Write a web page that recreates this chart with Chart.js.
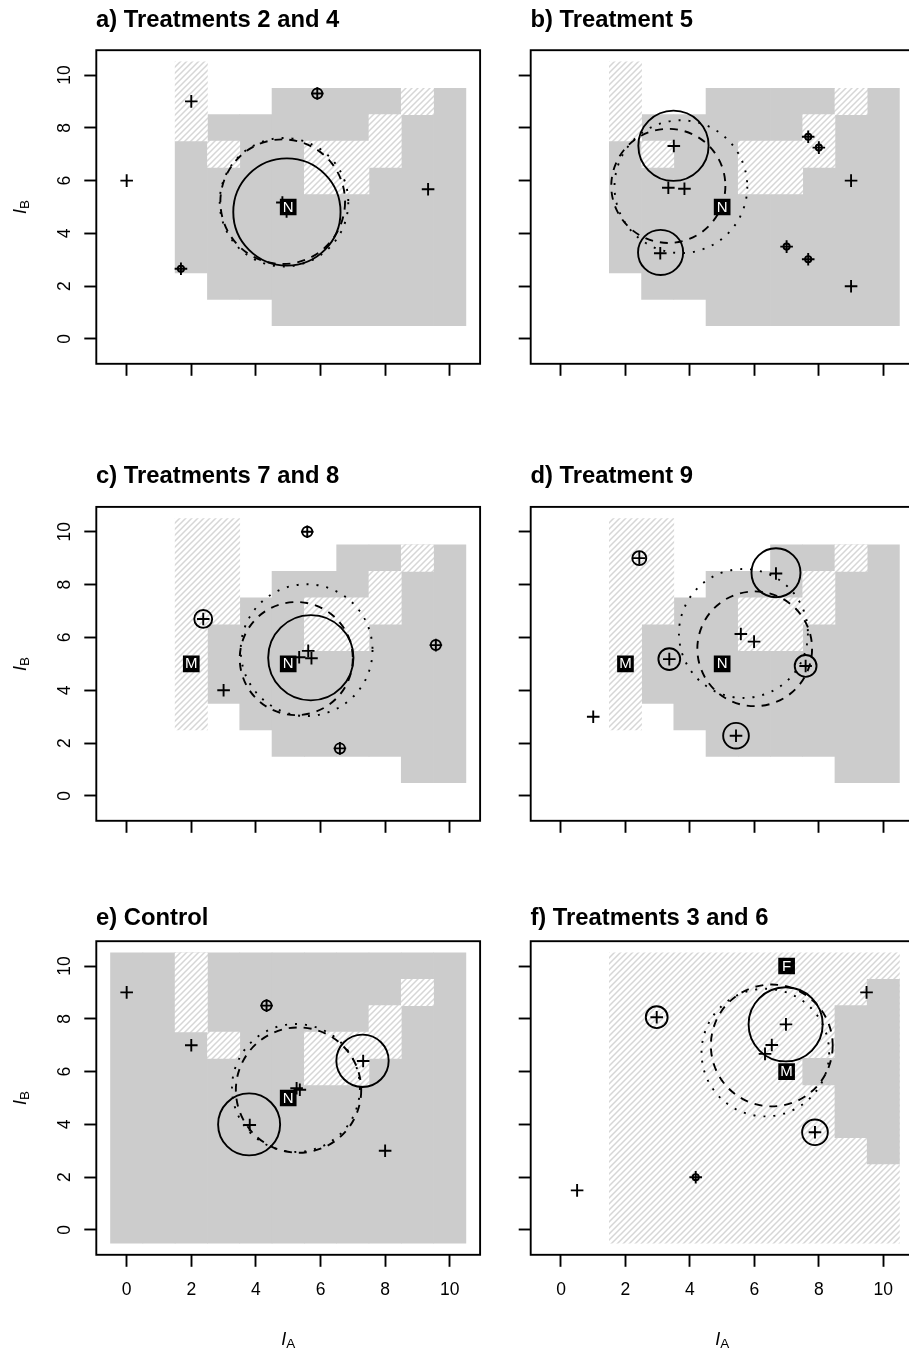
<!DOCTYPE html>
<html>
<head>
<meta charset="utf-8">
<title>Investment choices by treatment</title>
<script src="https://cdn.jsdelivr.net/npm/chart.js@4.4.1/dist/chart.umd.min.js"></script>
<style>
  html, body { margin: 0; padding: 0; background: #fff; overflow: hidden; }
  #page { position: relative; width: 909px; height: 1351px; overflow: hidden; background: #fff;
          font-family: "Liberation Sans", Arial, Helvetica, sans-serif; color: #000; }
  #page canvas { position: absolute; }
  .ttl { position: absolute; font-weight: bold; font-size: 23.8px; line-height: 1; white-space: nowrap; }
  .axt { position: absolute; font-size: 18px; line-height: 1; white-space: nowrap; }
  .axt i { font-style: italic; }
  .axt sub { font-size: 13.5px; vertical-align: -3px; line-height: 0; }
</style>
</head>
<body>
<div id="page"></div>
<script>
// Tick positions shared by both axes
const axisTicks = [0, 2, 4, 6, 8, 10];

// Cells of the grid as [column, first row, last row]
const grayAB   = [[2, 3, 7], [3, 2, 8], [4, 2, 8], [5, 1, 9], [6, 1, 9], [7, 1, 9], [8, 1, 9], [9, 1, 9], [10, 1, 9]];
const hatchABE = [[2, 8, 10], [3, 7, 7], [6, 6, 7], [7, 6, 7], [8, 7, 8], [9, 9, 9]];
const grayCD   = [[3, 4, 6], [4, 3, 7], [5, 2, 8], [6, 2, 8], [7, 2, 9], [8, 2, 9], [9, 1, 9], [10, 1, 9]];
const hatchCD  = [[2, 3, 10], [3, 7, 10], [6, 6, 7], [7, 6, 7], [8, 7, 8], [9, 9, 9]];
const grayE    = [[0, 0, 10], [1, 0, 10], [2, 0, 10], [3, 0, 10], [4, 0, 10], [5, 0, 10],
                  [6, 0, 10], [7, 0, 10], [8, 0, 10], [9, 0, 10], [10, 0, 10]];
const grayF    = [[8, 6, 6], [9, 4, 8], [10, 3, 9]];
const hatchF   = [[2, 0, 10], [3, 0, 10], [4, 0, 10], [5, 0, 10], [6, 0, 10],
                  [7, 0, 10], [8, 0, 10], [9, 0, 10], [10, 0, 10]];

// Observed choices (I_A, I_B) and how many coincide at each point
const aX = [0, 2, 5.9, 1.68, 9.33, 4.82, 4.95];
const aY = [6, 9, 9.3, 2.66, 5.67, 5.17, 4.83];
const aN = [1, 1, 3, 2, 1, 1, 1];
const bX = [3.5, 3.08, 3.33, 3.83, 7.67, 8.0, 9.0, 7.0, 7.67, 9.0];
const bY = [7.31, 3.25, 5.73, 5.69, 7.66, 7.25, 6.0, 3.5, 3.02, 2.0];
const bN = [1, 1, 1, 1, 2, 2, 1, 2, 2, 1];
const cX = [5.59, 2.37, 3.0, 5.34, 5.62, 5.72, 9.57, 6.6];
const cY = [10.0, 6.7, 4.0, 5.25, 5.49, 5.21, 5.71, 1.8];
const cN = [3, 5, 1, 1, 1, 1, 3, 3];
const dX = [2.43, 1.0, 3.36, 5.58, 5.99, 7.59, 5.43, 6.67];
const dY = [9.0, 3.0, 5.18, 6.13, 5.84, 4.92, 2.28, 8.42];
const dN = [4, 1, 6, 1, 1, 6, 7, 1];
const eX = [0, 2, 4.33, 5.26, 5.36, 3.81, 7.32, 8];
const eY = [9, 7, 8.5, 5.37, 5.31, 3.98, 6.4, 3];
const eN = [1, 1, 3, 1, 1, 1, 1, 1];
const fX = [0.5, 2.97, 4.18, 9.48, 6.98, 6.54, 6.33, 7.88];
const fY = [1.5, 8.06, 2.0, 9.0, 7.79, 7.01, 6.67, 3.7];
const fN = [1, 6, 2, 1, 1, 1, 1, 7];

// Cluster circles [centre x, centre y, radius in I_A units]
const aSolid = [[4.96, 4.81, 1.66]];
const aDashed = [4.83, 5.2, 1.93];
const aDotted = [4.87, 5.18, 1.99];
const bSolid = [[3.49, 7.32, 1.09], [3.09, 3.28, 0.70]];
const bDashed = [3.33, 5.8, 1.77];
const bDotted = [3.72, 5.77, 2.06];
const cSolid = [[5.7, 5.23, 1.32]];
const cDashed = [5.25, 5.2, 1.75];
const cDotted = [5.57, 5.52, 2.04];
const dSolid = [[6.67, 8.45, 0.76]];
const dDashed = [6.01, 5.57, 1.78];
const dDotted = [5.66, 6.15, 2.0];
const eSolid = [[3.79, 4.0, 0.96], [7.3, 6.41, 0.81]];
const eDashed = [5.32, 5.3, 1.94];
const eDotted = [5.24, 5.38, 1.98];
const fSolid = [[6.97, 7.79, 1.15]];
const fDashed = [6.54, 6.99, 1.89];
const fDotted = [6.34, 6.72, 1.98];

// Labelled reference points [letter, I_A, I_B]
const aMarks = [['N', 5, 5]];
const bMarks = [['N', 5, 5]];
const cMarks = [['M', 2, 5], ['N', 5, 5]];
const dMarks = [['M', 2, 5], ['N', 5, 5]];
const eMarks = [['N', 5, 5]];
const fMarks = [['F', 7, 10], ['M', 7, 6]];

const panelTitles = ['a) Treatments 2 and 4', 'b) Treatment 5', 'c) Treatments 7 and 8',
                     'd) Treatment 9', 'e) Control', 'f) Treatments 3 and 6'];

// ---------------------------------------------------------------------------
const FONT = '"Liberation Sans", Arial, Helvetica, sans-serif';
Chart.defaults.font.family = FONT;
Chart.defaults.color = '#000';
Chart.defaults.animation = false;

const LW = 1.9;
const AX_MIN = -0.94, AX_MAX = 10.94;
const ringRadius = n => 1.95 * n - 0.8;

// page layout of the 3 x 2 grid of plots
const COLS = [
  { canvasLeft: 0,   width: 490, plotLeft: 96.3,  plotRight: 480.1 },
  { canvasLeft: 440, width: 480, plotLeft: 530.7, plotRight: 913.6 }
];
const ROWS = [
  { plotTop: 50.2,  plotBottom: 363.8,  titleBase: 26.7 },
  { plotTop: 506.9, plotBottom: 820.8,  titleBase: 483.3 },
  { plotTop: 941.2, plotBottom: 1254.8, titleBase: 925.3 }
];

const panels = [
  { col: 0, row: 0, gray: grayAB, hatch: hatchABE, grayOnTop: false, x: aX, y: aY, n: aN, solid: aSolid, dashed: aDashed, dotted: aDotted, marks: aMarks },
  { col: 1, row: 0, gray: grayAB, hatch: hatchABE, grayOnTop: false, x: bX, y: bY, n: bN, solid: bSolid, dashed: bDashed, dotted: bDotted, marks: bMarks },
  { col: 0, row: 1, gray: grayCD, hatch: hatchCD,  grayOnTop: false, x: cX, y: cY, n: cN, solid: cSolid, dashed: cDashed, dotted: cDotted, marks: cMarks },
  { col: 1, row: 1, gray: grayCD, hatch: hatchCD,  grayOnTop: false, x: dX, y: dY, n: dN, solid: dSolid, dashed: dDashed, dotted: dDotted, marks: dMarks },
  { col: 0, row: 2, gray: grayE,  hatch: hatchABE, grayOnTop: false, x: eX, y: eY, n: eN, solid: eSolid, dashed: eDashed, dotted: eDotted, marks: eMarks },
  { col: 1, row: 2, gray: grayF,  hatch: hatchF,   grayOnTop: true,  x: fX, y: fY, n: fN, solid: fSolid, dashed: fDashed, dotted: fDotted, marks: fMarks }
];

const page = document.getElementById('page');

function makeHatch(ctx) {
  const t = document.createElement('canvas');
  t.width = 6; t.height = 6;
  const g = t.getContext('2d');
  g.fillStyle = '#ffffff';
  g.fillRect(0, 0, 6, 6);
  g.strokeStyle = '#d6d6d6';
  g.lineWidth = 1.5;
  g.beginPath();
  g.moveTo(-1, 7); g.lineTo(7, -1);
  g.moveTo(-1, 1); g.lineTo(1, -1);
  g.moveTo(5, 7);  g.lineTo(7, 5);
  g.stroke();
  return ctx.createPattern(t, 'repeat');
}

// line style for the dashed / dotted cluster circles
const circleDashPlugin = {
  id: 'circleDash',
  beforeDatasetDraw(chart, args) {
    const ds = chart.data.datasets[args.index];
    chart.ctx.setLineDash(ds.circleDash || []);
  },
  afterDatasetDraw(chart) {
    chart.ctx.setLineDash([]);
  }
};

// white letters on the black reference boxes, plus the frame round the plot
const framePlugin = {
  id: 'frameAndLetters',
  afterDatasetsDraw(chart) {
    const ctx = chart.ctx;
    ctx.save();
    chart.data.datasets.forEach((ds, i) => {
      if (!ds.markLabels) return;
      const meta = chart.getDatasetMeta(i);
      ctx.fillStyle = '#ffffff';
      ctx.font = '15px ' + FONT;
      ctx.textAlign = 'center';
      ctx.textBaseline = 'middle';
      meta.data.forEach((el, j) => ctx.fillText(ds.markLabels[j], el.x, el.y + 0.5));
    });
    const a = chart.chartArea;
    ctx.strokeStyle = '#000';
    ctx.lineWidth = LW;
    ctx.strokeRect(a.left, a.top, a.right - a.left, a.bottom - a.top);
    ctx.restore();
  }
};

function addText(cls, html, style) {
  const d = document.createElement('div');
  d.className = cls;
  d.innerHTML = html;
  Object.assign(d.style, style);
  page.appendChild(d);
  return d;
}

function buildPanel(p, idx) {
  const C = COLS[p.col], R = ROWS[p.row];
  const bottomRow = p.row === ROWS.length - 1;
  const top = Math.floor(R.plotTop) - 30;
  const xAxisH = bottomRow ? 50 : 20;
  const yAxisW = 50;
  const height = Math.ceil(R.plotBottom - top) + xAxisH + 30;

  const cv = document.createElement('canvas');
  cv.width = C.width;
  cv.height = height;
  Object.assign(cv.style, { left: C.canvasLeft + 'px', top: top + 'px', width: C.width + 'px', height: height + 'px' });
  page.appendChild(cv);
  const ctx = cv.getContext('2d');

  const cellData = cells => cells.map(([c, lo, hi]) => ({ x: c, y: [lo - 0.5, hi + 0.5] }));
  const pxPerUnit = chart => {
    const s = chart.scales.x;
    return s.getPixelForValue(1) - s.getPixelForValue(0);
  };
  const circleSet = (list, dash) => ({
    type: 'scatter',
    data: list.map(([x, y, r]) => ({ x, y, r })),
    order: 5,
    pointStyle: 'circle',
    pointRadius: c => c.raw.r * pxPerUnit(c.chart),
    pointBackgroundColor: 'rgba(0,0,0,0)',
    pointBorderColor: '#000',
    pointBorderWidth: LW,
    circleDash: dash
  });
  const rings = [];
  p.x.forEach((x, i) => { if (p.n[i] > 1) rings.push({ x, y: p.y[i], n: p.n[i] }); });

  const cellOpts = { type: 'bar', borderWidth: 0, grouped: false, barPercentage: 1, categoryPercentage: 1 };
  const datasets = [
    Object.assign({ data: cellData(p.gray), backgroundColor: '#cccccc', order: p.grayOnTop ? 7 : 8 }, cellOpts),
    Object.assign({ data: cellData(p.hatch), backgroundColor: makeHatch(ctx), order: p.grayOnTop ? 8 : 7 }, cellOpts),
    circleSet(p.solid, []),
    circleSet([p.dashed], [8, 7]),
    circleSet([p.dotted], [2, 8]),
    {
      type: 'scatter', data: rings, order: 3,
      pointStyle: 'circle', pointRadius: c => ringRadius(c.raw.n),
      pointBackgroundColor: 'rgba(0,0,0,0)', pointBorderColor: '#000', pointBorderWidth: LW
    },
    {
      type: 'scatter', data: p.x.map((x, i) => ({ x, y: p.y[i] })), order: 2,
      pointStyle: 'cross', pointRadius: 6.3, pointBorderColor: '#000', pointBorderWidth: LW
    },
    {
      type: 'scatter', data: p.marks.map(m => ({ x: m[1], y: m[2] })), markLabels: p.marks.map(m => m[0]), order: 1,
      pointStyle: 'rect', pointRadius: 11.8, pointBackgroundColor: '#000', pointBorderColor: '#000', pointBorderWidth: 0
    }
  ];

  const gridOpts = {
    display: true, drawOnChartArea: false, drawTicks: true, tickLength: 12,
    tickWidth: LW, tickColor: '#000', color: '#000', offset: false
  };
  const setTicks = s => { s.ticks = axisTicks.map(v => ({ value: v })); };

  new Chart(ctx, {
    type: 'scatter',
    data: { datasets },
    options: {
      responsive: false,
      maintainAspectRatio: false,
      animation: false,
      events: [],
      layout: {
        autoPadding: false,
        padding: {
          left: C.plotLeft - C.canvasLeft - yAxisW,
          right: C.width - (C.plotRight - C.canvasLeft),
          top: R.plotTop - top,
          bottom: height - (R.plotBottom - top) - xAxisH
        }
      },
      plugins: { legend: { display: false }, tooltip: { enabled: false }, title: { display: false } },
      scales: {
        x: {
          type: 'linear', min: AX_MIN, max: AX_MAX, offset: false, beginAtZero: false,
          afterBuildTicks: setTicks,
          afterFit: s => { s.height = xAxisH; },
          ticks: {
            display: bottomRow, color: '#000', font: { family: FONT, size: 17.5 },
            padding: 12.7, minRotation: 0, maxRotation: 0, autoSkip: false
          },
          grid: gridOpts,
          border: { display: false }
        },
        y: {
          type: 'linear', min: AX_MIN, max: AX_MAX, offset: false, beginAtZero: false,
          afterBuildTicks: setTicks,
          afterFit: s => { s.width = yAxisW; },
          ticks: {
            display: p.col === 0, color: '#000', font: { family: FONT, size: 17.5 },
            padding: 9.6, minRotation: 90, maxRotation: 90, crossAlign: 'center', autoSkip: false
          },
          grid: gridOpts,
          border: { display: false }
        }
      }
    },
    plugins: [circleDashPlugin, framePlugin]
  });

  // panel heading
  addText('ttl', panelTitles[idx], { left: (C.plotLeft - 0.3) + 'px', top: (R.titleBase - 0.8465 * 23.8) + 'px' });
  // axis names
  if (p.col === 0) {
    addText('axt', '<i>I</i><sub>B</sub>', {
      left: '20px', top: ((R.plotTop + R.plotBottom) / 2) + 'px',
      transform: 'translate(-50%, -50%) rotate(-90deg)'
    });
  }
  if (bottomRow) {
    addText('axt', '<i>I</i><sub>A</sub>', {
      left: ((C.plotLeft + C.plotRight) / 2) + 'px', top: '1339px',
      transform: 'translate(-50%, -50%)'
    });
  }
}

panels.forEach(buildPanel);
</script>
</body>
</html>
